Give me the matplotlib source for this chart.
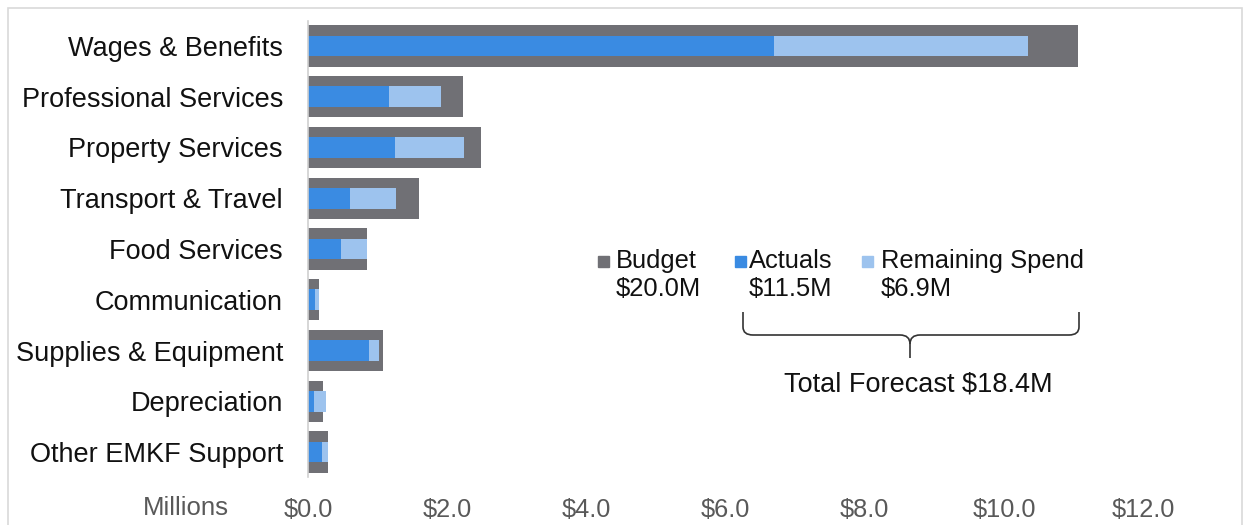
import matplotlib
matplotlib.use("Agg")
import matplotlib.pyplot as plt
from matplotlib.patches import Rectangle, PathPatch
from matplotlib.path import Path

plt.rcParams['font.family'] = ['Liberation Sans', 'DejaVu Sans']

# ---- data (millions) ----
categories = ["Wages & Benefits", "Professional Services", "Property Services",
              "Transport & Travel", "Food Services", "Communication",
              "Supplies & Equipment", "Depreciation", "Other EMKF Support"]
budget = [11.07, 2.22, 2.49, 1.60, 0.85, 0.16, 1.08, 0.22, 0.29]
actuals = [6.69, 1.17, 1.25, 0.60, 0.47, 0.10, 0.88, 0.08, 0.20]
remaining = [3.66, 0.74, 0.99, 0.67, 0.38, 0.06, 0.14, 0.18, 0.09]
x_ticks = [0, 2, 4, 6, 8, 10, 12]
x_tick_labels = ["$0.0", "$2.0", "$4.0", "$6.0", "$8.0", "$10.0", "$12.0"]
legend_names = ["Budget", "Actuals", "Remaining Spend"]
legend_totals = ["$20.0M", "$11.5M", "$6.9M"]
forecast_label = "Total Forecast $18.4M"

C_BUDGET = "#707075"
C_ACT = "#3a8be2"
C_REM = "#9dc3ee"
C_TEXT = "#111111"

W, H = 1244, 525
fig = plt.figure(figsize=(W / 100, H / 100), dpi=100)

def fx(px):
    return px / W

def fy(py):
    return 1 - py / H

# border
fig.patches.append(Rectangle((fx(8), fy(530)), fx(1242) - fx(8), fy(8) - fy(530),
                             transform=fig.transFigure, fill=False,
                             edgecolor="#d9d9d9", lw=1.2))

ax_left, ax_right = 308, 1178
ax_top, ax_bot = 20.6, 477.4
ax = fig.add_axes([fx(ax_left), fy(ax_bot), fx(ax_right) - fx(ax_left), fy(ax_top) - fy(ax_bot)])

y = list(range(len(categories)))
ax.barh(y, budget, height=0.81, color=C_BUDGET, zorder=1)
ax.barh(y, actuals, height=0.41, color=C_ACT, zorder=2)
ax.barh(y, remaining, left=actuals, height=0.41, color=C_REM, zorder=2)

ax.set_ylim(len(categories) - 0.5, -0.5)
ax.set_xlim(0, 12.5)
ax.set_yticks(y)
ax.set_yticklabels(categories, fontsize=19.5, color=C_TEXT)
ax.set_xticks(x_ticks)
ax.set_xticklabels(x_tick_labels, fontsize=18.3, color="#595959")
ax.tick_params(axis='y', length=0, pad=18)
ax.tick_params(axis='x', length=0, pad=15)
for s in ["top", "right", "bottom"]:
    ax.spines[s].set_visible(False)
ax.spines["left"].set_color("#d0d0d0")
ax.spines["left"].set_linewidth(1.2)

fig.text(fx(229), fy(508), "Millions", fontsize=18.5, color="#595959", ha="right", va="center")

# legend
sq_x = [598, 735, 862]
txt_x = [616, 749, 881]
for i in range(3):
    fig.patches.append(Rectangle((fx(sq_x[i]), fy(267)), fx(11), fy(256) - fy(267),
                                 transform=fig.transFigure,
                                 color=[C_BUDGET, C_ACT, C_REM][i]))
    fig.text(fx(txt_x[i]), fy(261), legend_names[i], fontsize=18.4, color=C_TEXT,
             ha="left", va="center")
    fig.text(fx(txt_x[i]), fy(289), legend_totals[i], fontsize=18.4, color=C_TEXT,
             ha="left", va="center")

# brace
L, R, M = 743, 1079, 910
top, hy, tip = 312, 335, 358
pts = [(L, top), (L, hy - 8), (L, hy), (L + 10, hy), (M - 10, hy), (M, hy), (M, hy + 9),
       (M, tip)]
codes = [Path.MOVETO, Path.LINETO, Path.CURVE3, Path.CURVE3, Path.LINETO, Path.CURVE3,
         Path.CURVE3, Path.LINETO]
pts2 = [(R, top), (R, hy - 8), (R, hy), (R - 10, hy), (M + 10, hy), (M, hy), (M, hy + 9)]
codes2 = [Path.MOVETO, Path.LINETO, Path.CURVE3, Path.CURVE3, Path.LINETO, Path.CURVE3,
          Path.CURVE3]
for p, c in ((pts, codes), (pts2, codes2)):
    path = Path([(fx(a), fy(b)) for a, b in p], c)
    fig.patches.append(PathPatch(path, transform=fig.transFigure, fill=False,
                                 edgecolor="#333333", lw=1.2))

fig.text(fx(918), fy(385), forecast_label, fontsize=19.5, color=C_TEXT,
         ha="center", va="center")

fig.savefig("out.png", dpi=100)
